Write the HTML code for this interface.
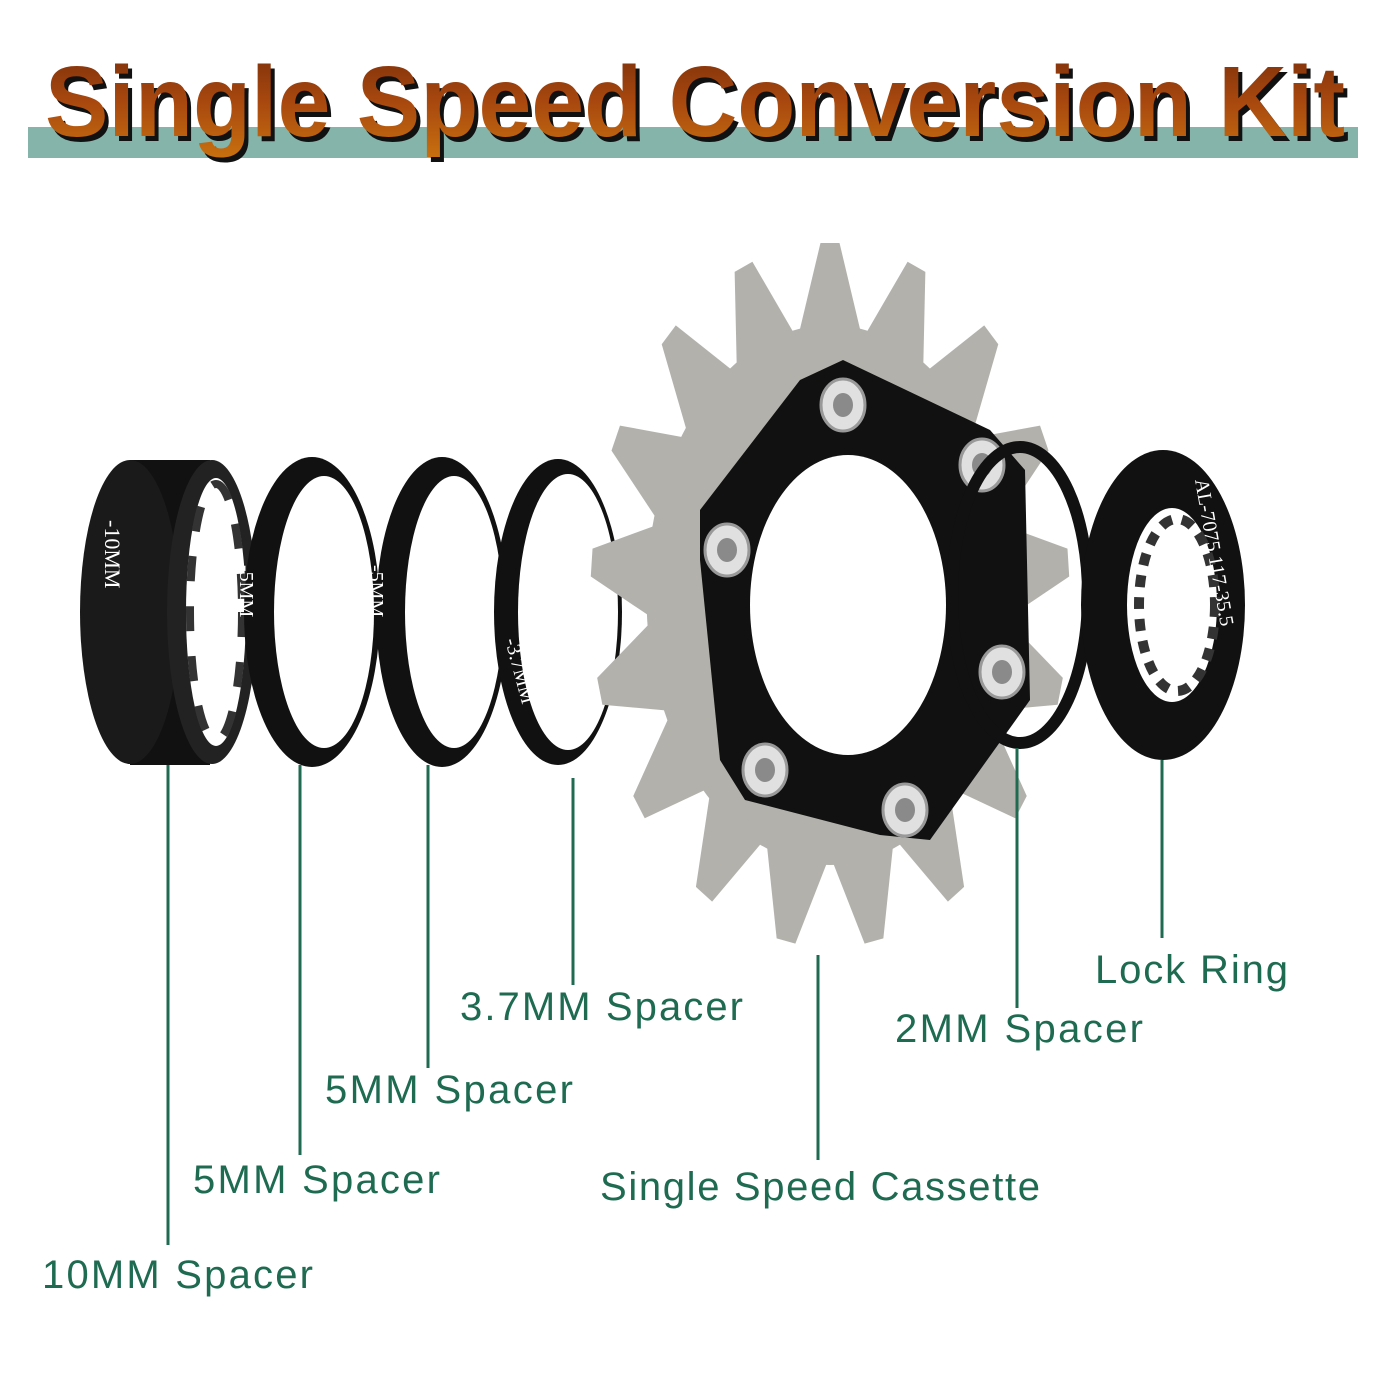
<!DOCTYPE html>
<html><head><meta charset="utf-8"><style>
html,body{margin:0;padding:0;background:#fff;width:1400px;height:1400px;overflow:hidden}
</style></head><body>
<svg width="1400" height="1400" viewBox="0 0 1400 1400" xmlns="http://www.w3.org/2000/svg">
<defs>
<linearGradient id="tg" x1="0" y1="0" x2="0" y2="1">
<stop offset="0" stop-color="#7a2e0a"/><stop offset="0.5" stop-color="#a8480f"/><stop offset="1" stop-color="#c8700f"/>
</linearGradient>
<path id="tooth" d="M-48 -255 L-14 -352 L14 -352 L48 -255 Z" fill="#b3b1ac"/>
</defs>
<rect x="28" y="127" width="1330" height="31" fill="#84b4aa"/>
<text x="49" y="141" font-family="Liberation Sans, sans-serif" font-weight="bold" font-size="100" textLength="1300" lengthAdjust="spacingAndGlyphs" fill="#111">Single Speed Conversion Kit</text>
<text x="45" y="136" font-family="Liberation Sans, sans-serif" font-weight="bold" font-size="100" textLength="1300" lengthAdjust="spacingAndGlyphs" fill="url(#tg)">Single Speed Conversion Kit</text>

<!-- 10mm spacer -->
<path d="M130 460 L210 460 L210 765 L130 765 Z" fill="#111"/>
<ellipse cx="130" cy="612" rx="50" ry="152" fill="#1a1a1a"/>
<ellipse cx="212" cy="612" rx="45" ry="152" fill="#222"/>
<ellipse cx="216" cy="612" rx="30" ry="134" fill="#fff"/>
<ellipse cx="216" cy="612" rx="26" ry="128" fill="none" stroke="#333" stroke-width="8" stroke-dasharray="25 25"/>
<!-- 5mm, 5mm, 3.7mm -->
<ellipse cx="312" cy="612" rx="68" ry="155" fill="#111"/>
<ellipse cx="324" cy="612" rx="50" ry="136" fill="#fff"/>
<ellipse cx="442" cy="612" rx="66" ry="155" fill="#111"/>
<ellipse cx="454" cy="612" rx="49" ry="136" fill="#fff"/>
<ellipse cx="558" cy="612" rx="64" ry="153" fill="#111"/>
<ellipse cx="568" cy="612" rx="50" ry="138" fill="#fff"/>
<text transform="translate(105,520) rotate(90)" font-family="Liberation Serif,serif" font-size="22" fill="#fff">-10MM</text>
<text transform="translate(240,565) rotate(90)" font-family="Liberation Serif,serif" font-size="20" fill="#fff">-5MM</text>
<text transform="translate(370,565) rotate(90)" font-family="Liberation Serif,serif" font-size="20" fill="#fff">-5MM</text>
<text transform="translate(505,640) rotate(75)" font-family="Liberation Serif,serif" font-size="20" fill="#fff">-3.7MM</text>

<!-- cog -->
<g transform="translate(830,595) scale(0.68,1)">
<circle r="270" fill="#b3b1ac"/>
<use href="#tooth" transform="rotate(0)"/>
<use href="#tooth" transform="rotate(21.18)"/>
<use href="#tooth" transform="rotate(42.35)"/>
<use href="#tooth" transform="rotate(63.53)"/>
<use href="#tooth" transform="rotate(84.71)"/>
<use href="#tooth" transform="rotate(105.88)"/>
<use href="#tooth" transform="rotate(127.06)"/>
<use href="#tooth" transform="rotate(148.24)"/>
<use href="#tooth" transform="rotate(169.41)"/>
<use href="#tooth" transform="rotate(190.59)"/>
<use href="#tooth" transform="rotate(211.76)"/>
<use href="#tooth" transform="rotate(232.94)"/>
<use href="#tooth" transform="rotate(254.12)"/>
<use href="#tooth" transform="rotate(275.29)"/>
<use href="#tooth" transform="rotate(296.47)"/>
<use href="#tooth" transform="rotate(317.65)"/>
<use href="#tooth" transform="rotate(338.82)"/>
</g>
<path d="M843 360 L990 430 L1025 470 L1030 700 L930 840 L880 835 L745 800 L720 760 L700 560 L700 510 L800 380 Z" fill="#111"/>
<ellipse cx="848" cy="605" rx="98" ry="150" fill="#fff"/>
<g fill="#e0e0e0" stroke="#999" stroke-width="3">
<ellipse cx="843" cy="405" rx="22" ry="26"/>
<ellipse cx="727" cy="550" rx="22" ry="26"/>
<ellipse cx="982" cy="465" rx="22" ry="26"/>
<ellipse cx="1002" cy="672" rx="22" ry="26"/>
<ellipse cx="765" cy="770" rx="22" ry="26"/>
<ellipse cx="905" cy="810" rx="22" ry="26"/>
</g>
<g fill="#8a8a8a"><ellipse cx="843" cy="405" rx="10" ry="12"/><ellipse cx="727" cy="550" rx="10" ry="12"/><ellipse cx="982" cy="465" rx="10" ry="12"/><ellipse cx="1002" cy="672" rx="10" ry="12"/><ellipse cx="765" cy="770" rx="10" ry="12"/><ellipse cx="905" cy="810" rx="10" ry="12"/></g>

<!-- 2mm spacer -->
<ellipse cx="1020" cy="595" rx="68" ry="148" fill="none" stroke="#111" stroke-width="12"/>
<!-- lock ring -->
<ellipse cx="1163" cy="605" rx="82" ry="155" fill="#111"/>
<ellipse cx="1172" cy="605" rx="45" ry="97" fill="#fff"/>
<ellipse cx="1177" cy="605" rx="38" ry="86" fill="none" stroke="#333" stroke-width="10" stroke-dasharray="12 10"/>
<text transform="translate(1195,480) rotate(80)" font-family="Liberation Serif,serif" font-size="20" fill="#fff">AL-7075  117-35.5</text>

<!-- lines -->
<g stroke="#1e6b52" stroke-width="3">
<line x1="168" y1="765" x2="168" y2="1245"/>
<line x1="300" y1="765" x2="300" y2="1155"/>
<line x1="428" y1="765" x2="428" y2="1068"/>
<line x1="573" y1="778" x2="573" y2="985"/>
<line x1="818" y1="955" x2="818" y2="1160"/>
<line x1="1017" y1="748" x2="1017" y2="1008"/>
<line x1="1162" y1="760" x2="1162" y2="938"/>
</g>
<g font-family="Liberation Sans, sans-serif" font-size="40" fill="#1e6b52" lengthAdjust="spacingAndGlyphs">
<text x="42" y="1288" textLength="271">10MM Spacer</text>
<text x="193" y="1193" textLength="247">5MM Spacer</text>
<text x="325" y="1103" textLength="248">5MM Spacer</text>
<text x="460" y="1020" textLength="283">3.7MM Spacer</text>
<text x="600" y="1200" textLength="440">Single Speed Cassette</text>
<text x="895" y="1042" textLength="248">2MM Spacer</text>
<text x="1095" y="983" textLength="193">Lock Ring</text>
</g>
</svg>
</body></html>
